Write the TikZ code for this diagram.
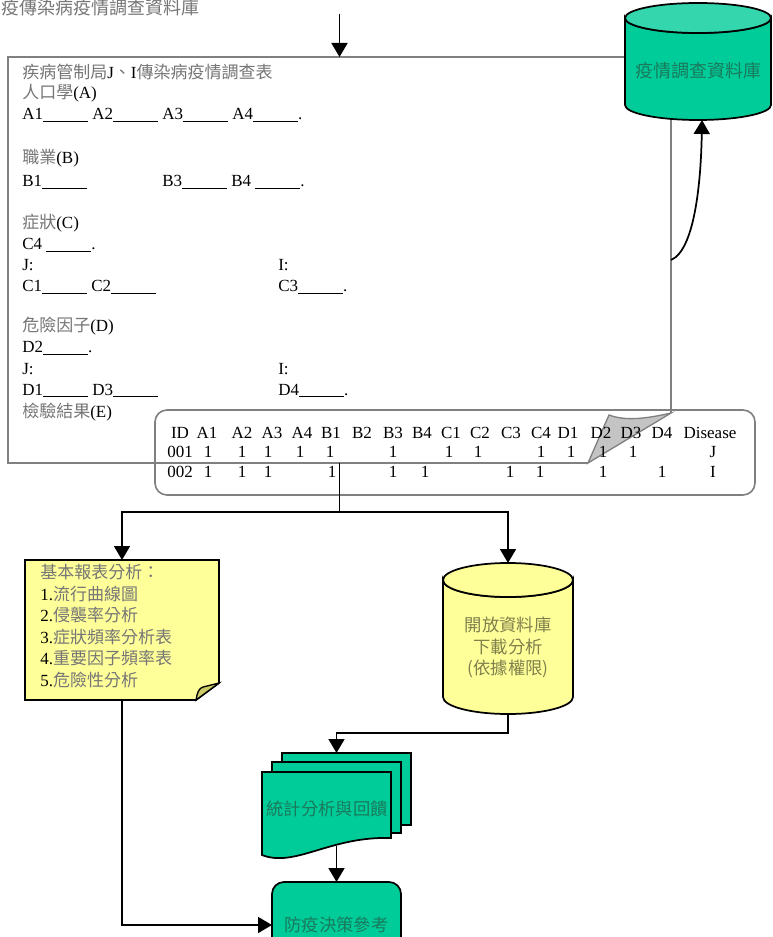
\documentclass[tikz,border=0pt]{standalone}
\usepackage{fontspec}
\setmainfont{Liberation Serif}
\newfontfamily\zhfont{Noto Sans CJK TC}
\usetikzlibrary{arrows.meta,fit,calc}
\definecolor{formgray}{HTML}{808080}
\definecolor{zhg}{HTML}{767676}
\definecolor{zhy}{HTML}{80804D}
\definecolor{zht}{HTML}{1A7A5C}
\definecolor{tealf}{HTML}{00CC99}
\definecolor{tealtop}{HTML}{33D6AD}
\definecolor{yell}{HTML}{FFFF99}
\definecolor{flapc}{HTML}{CCCC66}
\definecolor{curlc}{HTML}{C4C4C4}
\newcommand{\zh}[1]{{\zhfont\color{zhg}#1}}
\newcommand{\fillin}{\rule[-1.6pt]{33.75pt}{0.8pt}}
\begin{document}
\begin{tikzpicture}[x=0.75pt,y=-0.75pt,
  txt/.style={font=\fontsize{12.75}{15}\selectfont, inner sep=0pt, anchor=base west},
  ctr/.style={font=\fontsize{12.75}{15}\selectfont, inner sep=0pt, anchor=base},
  zhy/.style={font=\fontsize{13}{15}\selectfont\zhfont, text=zhy, inner sep=0pt, anchor=base},
  zht/.style={font=\fontsize{13}{15}\selectfont\zhfont, text=zht, inner sep=0pt, anchor=base},
  arr/.style={line width=1.3pt, -{Triangle[length=10.5pt,width=12pt]}},
  conn/.style={line width=1.3pt},
  shapeline/.style={draw=black, line width=1.3pt},
  area/.style={inner sep=0pt, outer sep=0pt}
]
\useasboundingbox (0,0) rectangle (773,937);
\fill[white] (0,0) rectangle (773,937);
\clip (0,0) rectangle (773,937);

% ---------- anchor areas ----------
\node[area, fit={(8,57) (671,463)}] (form) {};
\node[area, fit={(625,3) (771,120)}] (db1) {};
\node[area, fit={(25,560) (219,700)}] (note) {};
\node[area, fit={(443,563) (573,714)}] (db2) {};
\node[area, fit={(262,753) (411,846)}] (docs) {};

% ---------- top title ----------
\node[font=\fontsize{13.5}{16}\selectfont\zhfont, text=zhg, inner sep=0pt, anchor=base west] (toptitle) at (1,15) {疫傳染病疫情調查資料庫};

% ---------- table box ----------
\node[area, fit={(155,410) (755,495)}, draw=formgray, line width=1.2pt, rounded corners=9pt] (tbl) {};

% ---------- form outline ----------
\draw[formgray, line width=1.3pt] (671,413) -- (671,57) -- (8,57) -- (8,463) -- (588,463);
\draw[formgray, line width=1pt, fill=curlc] (609,415) .. controls (625,421) and (645,419) .. (671,413) -- (588,463) -- cycle;

% ---------- teal database ----------
\path[shapeline, fill=tealf] (625,18) -- (625,105) arc[start angle=180, end angle=0, x radius=73, y radius=15] -- (771,18) arc[start angle=0, end angle=180, x radius=73, y radius=15] -- cycle;
\draw[shapeline, fill=tealtop] (698,18) ellipse[x radius=73, y radius=15];
\node[zht, font=\fontsize{13.5}{15}\selectfont\zhfont] (db1t) at (698,78) {疫情調查資料庫};

% ---------- form texts ----------
\node[txt] (t1) at (22,79) {\zh{疾病管制局}J\zh{、}I\zh{傳染病疫情調查表}};
\node[txt] (t2) at (22,99) {\zh{人口學}(A)};
\node[txt] (t3) at (22,120) {A1\fillin{} A2\fillin{} A3\fillin{} A4\fillin.};
\node[txt] (t4) at (22,164) {\zh{職業}(B)};
\node[txt] (t5) at (22,187) {B1\fillin};
\node[txt] (t6) at (162,187) {B3\fillin{} B4 \fillin.};
\node[txt] (t7) at (22,229) {\zh{症狀}(C)};
\node[txt] (t8) at (22,250) {C4 \fillin.};
\node[txt] (t9) at (22,271) {J:};
\node[txt] (t10) at (278,271) {I:};
\node[txt] (t11) at (22,292) {C1\fillin{} C2\fillin};
\node[txt] (t12) at (278,292) {C3\fillin.};
\node[txt] (t13) at (22,332) {\zh{危險因子}(D)};
\node[txt] (t14) at (22,353) {D2\fillin.};
\node[txt] (t15) at (22,374) {J:};
\node[txt] (t16) at (278,374) {I:};
\node[txt] (t17) at (22,395) {D1\fillin{} D3\fillin};
\node[txt] (t18) at (278,395) {D4\fillin.};
\node[txt] (t19) at (22,417) {\zh{檢驗結果}(E)};

% ---------- table texts ----------
\foreach \x/\t [count=\i] in {180/ID,207/A1,242/A2,272/A3,302/A4,331/B1,362/B2,393/B3,422/B4,451/C1,480/C2,511/C3,541/C4,568/D1,601/D2,631/D3,662/D4,710/Disease}
  \node[ctr] (h\i) at (\x,438) {\t};
\foreach \x/\t [count=\i] in {180/001,208/1,242/1,268/1,300/1,330/1,393/1,449/1,478/1,541/1,571/1,603/1,633/1,713/J}
  \node[ctr] (ra\i) at (\x,457) {\t};
\foreach \x/\t [count=\i] in {180/002,208/1,242/1,268/1,332/1,393/1,425/1,510/1,540/1,603/1,662/1,713/I}
  \node[ctr] (rb\i) at (\x,477) {\t};

% ---------- connectors from form ----------
\coordinate (src) at (339.5,14);
\draw[arr] (src) -- (form.north);
\draw[arr] (form.east) .. controls (695,250) and (701,180) .. ([xshift=3pt]db1.south);
\coordinate (split) at (339.5,512);
\draw[conn] (form.south) -- (split);
\draw[arr] (split) -| (note.north);
\draw[arr] (split) -| (db2.north);

% ---------- yellow note ----------
\draw[shapeline, fill=yell] (25,560) -- (219,560) -- (219,683) -- (196,700) -- (25,700) -- cycle;
\draw[shapeline, line width=1pt, fill=flapc] (196,700) .. controls (197,693) and (199,688) .. (203,687) -- (219,683) -- cycle;
\node[txt] (n1) at (40,578) {\zh{基本報表分析：}};
\node[txt] (n2) at (40,600) {1.\zh{流行曲線圖}};
\node[txt] (n3) at (40,621) {2.\zh{侵襲率分析}};
\node[txt] (n4) at (40,643) {3.\zh{症狀頻率分析表}};
\node[txt] (n5) at (40,664) {4.\zh{重要因子頻率表}};
\node[txt] (n6) at (40,686) {5.\zh{危險性分析}};

% ---------- yellow database ----------
\path[shapeline, fill=yell] (443,580) -- (443,697) arc[start angle=180, end angle=0, x radius=65, y radius=17] -- (573,580) arc[start angle=0, end angle=180, x radius=65, y radius=17] -- cycle;
\draw[shapeline, fill=yell] (508,580) ellipse[x radius=65, y radius=17];
\node[zhy] (d2a) at (508,631) {開放資料庫};
\node[zhy] (d2b) at (508,653) {下載分析};
\node[zhy] (d2c) at (508,674) {(依據權限)};

% ---------- multi document ----------
\coordinate (bend) at (508,733);
\draw[arr] (db2.south) -- (bend) -| (docs.north);
\draw[shapeline, fill=tealf] (282,753) rectangle (411,825);
\draw[shapeline, fill=tealf] (272,762) rectangle (401,833);
\draw[shapeline, fill=tealf] (262,772) -- (262,855) .. controls (295,868) and (330,836) .. (391,838) -- (391,772) -- cycle;
\node[zht] (docst) at (327,815) {統計分析與回饋};

% ---------- decision box ----------
\node[area, fit={(272,882) (401,968)}, draw=black, line width=1.3pt, fill=tealf, rounded corners=9pt] (decide) {};
\node[zht] (decidet) at (336.5,931) {防疫決策參考};
\draw[arr] (docs.south) -- (decide.north);
\draw[arr] (note.south) |- (decide.west);
\end{tikzpicture}
\end{document}
